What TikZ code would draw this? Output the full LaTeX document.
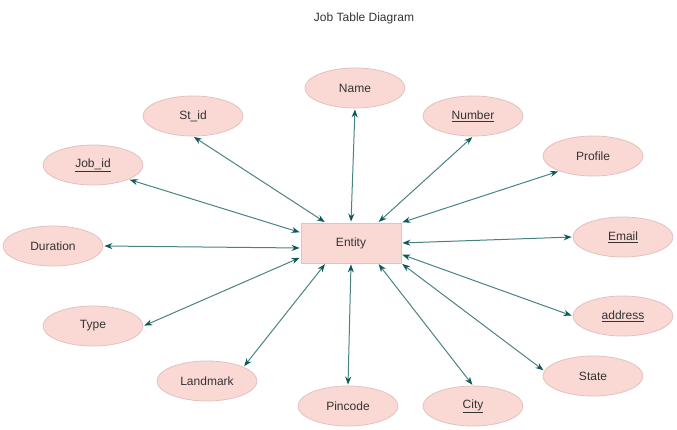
\documentclass[tikz,border=0pt]{standalone}
\usepackage{fontspec}
\setmainfont{Liberation Sans}
\usepackage{tikz}
\usetikzlibrary{calc}
\usetikzlibrary{shapes.geometric}
\usetikzlibrary{arrows.meta}
\definecolor{attrfill}{HTML}{FAD9D5}
\definecolor{attrline}{HTML}{E3C2BE}
\definecolor{linkcol}{HTML}{4A8283}
\definecolor{tipcol}{HTML}{0E5859}
\definecolor{textcol}{HTML}{333333}
\tikzset{
  attrnode/.style={ellipse, draw=attrline, fill=attrfill, line width=0.8pt, minimum width=100pt, minimum height=40pt, inner sep=0pt, text=textcol, font=\fontsize{12}{14}\selectfont},
  entnode/.style={rectangle, draw=attrline, fill=attrfill, line width=0.8pt, minimum width=100pt, minimum height=40pt, inner sep=0pt, text=textcol, font=\fontsize{12}{14}\selectfont},
  linkline/.style={draw=linkcol, line width=1pt, {Stealth[length=8pt,width=6pt,color=tipcol]}-{Stealth[length=8pt,width=6pt,color=tipcol]}, shorten <=1pt, shorten >=1pt}
}
\newcommand{\attrib}[4]{\node[attrnode] (#1) at ( #2 , #3 ) {#4};}
\newcommand{\link}[2]{\draw[linkline] (#1) -- (#2);}

\begin{document}
\begin{tikzpicture}[x=1pt,y=-1pt]

        \useasboundingbox (0,0) rectangle (677,430);

        \node[text=textcol, font=\fontsize{12}{14}\selectfont] (title) at (364,18) {Job Table Diagram};

        % entity
        \node[entnode] (ent) at (351,243) {Entity};

        \coordinate (t1) at ($(ent.north west)+(25,0)$);
        \coordinate (t2) at (ent.north);
        \coordinate (t3) at ($(ent.north)+(27,0)$);
        \coordinate (t4) at (ent.north east);
        \coordinate (l1) at ($(ent.north west)+(0,10)$);
        \coordinate (l2) at ($(ent.west)+(0,5)$);
        \coordinate (l3) at ($(ent.south west)+(0,-6)$);
        \coordinate (b1) at ($(ent.south west)+(25,0)$);
        \coordinate (b2) at (ent.south);
        \coordinate (b3) at ($(ent.south)+(27,0)$);
        \coordinate (b4) at (ent.south east);
        \coordinate (r1) at (ent.east);
        \coordinate (r2) at ($(ent.south east)+(0,-9)$);

        % attributes
        \attrib{name}{355}{88}{Name}
        \attrib{stid}{193}{116}{St\_id}
        \attrib{number}{473}{116}{\underline{Number}}
        \attrib{jobid}{93}{165}{\underline{Job\_id}}
        \attrib{profile}{593}{156}{Profile}
        \attrib{duration}{53}{246}{Duration}
        \attrib{email}{623}{237}{\underline{Email}}
        \attrib{type}{93}{326}{Type}
        \attrib{address}{623}{316}{\underline{address}}
        \attrib{landmark}{207}{381}{Landmark}
        \attrib{state}{593}{376}{State}
        \attrib{pincode}{348}{406}{Pincode}
        \attrib{city}{473}{406}{\underline{City}}

        % links
        \link{stid.south}{t1}
        \link{name.south}{t2}
        \link{number.south}{t3}
        \link{profile.204}{t4}
        \link{jobid.-22}{l1}
        \link{duration.east}{l2}
        \link{type.east}{l3}
        \link{landmark.21}{b1}
        \link{pincode.north}{b2}
        \link{city.north}{b3}
        \link{state.174}{b4}
        \link{email.west}{r1}
        \link{address.west}{r2}

\end{tikzpicture}
\end{document}
